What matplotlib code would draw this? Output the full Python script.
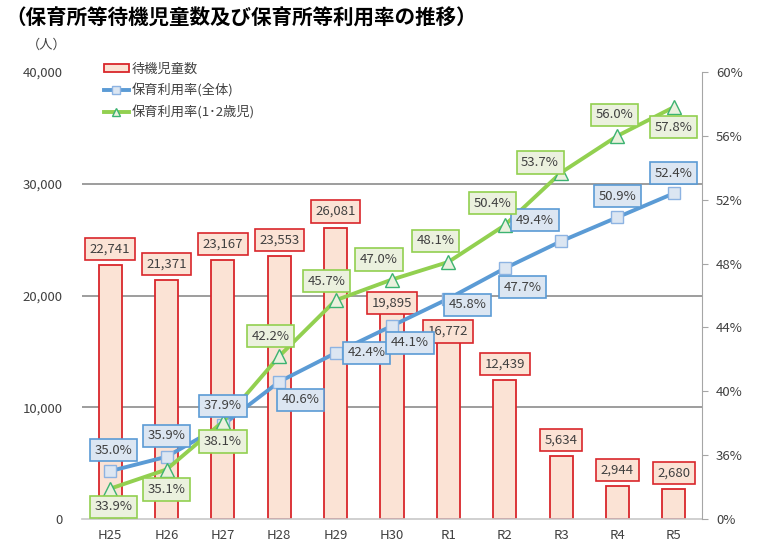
import matplotlib
matplotlib.use("Agg")
import matplotlib.pyplot as plt
from matplotlib.patches import Patch
from matplotlib.lines import Line2D

plt.rcParams["font.family"] = ["Noto Sans CJK JP", "DejaVu Sans"]

# ---- data ----
years = ["H25", "H26", "H27", "H28", "H29", "H30", "R1", "R2", "R3", "R4", "R5"]
waiting = [22741, 21371, 23167, 23553, 26081, 19895, 16772, 12439, 5634, 2944, 2680]
rate_all = [35.0, 35.9, 37.9, 40.6, 42.4, 44.1, 45.8, 47.7, 49.4, 50.9, 52.4]
rate_12 = [33.9, 35.1, 38.1, 42.2, 45.7, 47.0, 48.1, 50.4, 53.7, 56.0, 57.8]

# label offsets (pixels, x right / y down as on screen)
off_bar = [-16, -16, -16, -16, -16, 6, 0, -16, -16, -16, -16]
off_all = [(3, -21), (0, -21), (0, -19), (21, 18), (31, 0), (18, 17),
           (19, 6), (18, 19), (-26, -21), (0, -21), (0, -20)]
off_12 = [(3, 18), (0, 20), (0, 20), (-9, -20), (-9, -19), (-13, -20),
          (-13, -21), (-12, -22), (-21, -10), (-3, -21), (0, 20)]

RED = "#d9262b"
BAR_FILL = "#fbe3d5"
BLUE = "#5b9bd5"
BLUE_FILL = "#dce6f2"
GREEN = "#92d050"
GREEN_FILL = "#ebf1de"
TXT = "#404040"

fig = plt.figure(figsize=(7.57, 5.57), dpi=100)
ax = fig.add_axes([82 / 757, 1 - 519 / 557, 620 / 757, 447 / 557])
ax2 = ax.twinx()

x = list(range(len(years)))

ax.bar(x, waiting, width=0.41, color=BAR_FILL, edgecolor=RED, linewidth=1.3, zorder=2)
for xi, v, dy in zip(x, waiting, off_bar):
    ax.annotate(f"{v:,}", (xi, v), xytext=(0, -dy), textcoords="offset pixels",
                ha="center", va="center", fontsize=9.5, color=TXT,
                bbox=dict(boxstyle="square,pad=0.35", fc=BAR_FILL, ec=RED, lw=1.2), zorder=5)

ax.set_xlim(-0.5, len(years) - 0.5)
ax.set_ylim(0, 40000)
ax.set_yticks([0, 10000, 20000, 30000, 40000])
ax.set_yticklabels(["0", "10,000", "20,000", "30,000", "40,000"])
ax.set_xticks(x)
ax.set_xticklabels(years)
ax.tick_params(axis="y", length=0, pad=14, labelsize=9.5, labelcolor=TXT)
ax.tick_params(axis="x", length=0, pad=7, labelsize=9.5, labelcolor=TXT)
for yv in [10000, 20000, 30000]:
    ax.axhline(yv, color="#8c8c8c", lw=1.2, zorder=1)
for s in ["top", "left", "right"]:
    ax.spines[s].set_visible(False)
ax.spines["bottom"].set_color("#c8c8c8")
ax.spines["bottom"].set_linewidth(1.2)

# right axis: 32-60 with bottom labelled 0%
ax2.set_ylim(32, 60)
ax2.set_yticks([32, 36, 40, 44, 48, 52, 56, 60])
ax2.set_yticklabels(["0%", "36%", "40%", "44%", "48%", "52%", "56%", "60%"])
ax2.tick_params(axis="y", length=4, color="#a6a6a6", pad=6, labelsize=9.5, labelcolor=TXT)
for s in ["top", "left", "bottom"]:
    ax2.spines[s].set_visible(False)
ax2.spines["right"].set_color("#a6a6a6")

ax2.plot(x, rate_all, color=BLUE, lw=2.8, marker="s", ms=9, mfc=BLUE_FILL, mec="#8db3e2",
         mew=1, zorder=4)
ax2.plot(x, rate_12, color=GREEN, lw=2.8, marker="^", ms=10, mfc=GREEN_FILL, mec="#3cb371",
         mew=1, zorder=4)

for xi, v, (dx, dy) in zip(x, rate_all, off_all):
    ax2.annotate(f"{v:.1f}%", (xi, v), xytext=(dx, -dy), textcoords="offset pixels",
                 ha="center", va="center", fontsize=9.5, color=TXT,
                 bbox=dict(boxstyle="square,pad=0.35", fc=BLUE_FILL, ec=BLUE, lw=1.2), zorder=6)
for xi, v, (dx, dy) in zip(x, rate_12, off_12):
    ax2.annotate(f"{v:.1f}%", (xi, v), xytext=(dx, -dy), textcoords="offset pixels",
                 ha="center", va="center", fontsize=9.5, color=TXT,
                 bbox=dict(boxstyle="square,pad=0.35", fc=GREEN_FILL, ec=GREEN, lw=1.2), zorder=6)

handles = [
    Patch(facecolor=BAR_FILL, edgecolor=RED, linewidth=1.3),
    Line2D([], [], color=BLUE, lw=2.8, marker="s", ms=6, mfc=BLUE_FILL, mec="#8db3e2"),
    Line2D([], [], color=GREEN, lw=2.8, marker="^", ms=6, mfc=GREEN_FILL, mec="#3cb371"),
]
labels = ["待機児童数", "保育利用率(全体)", "保育利用率(1･2歳児)"]
leg = ax2.legend(handles, labels, loc="upper left", bbox_to_anchor=(0.02, 1.042), frameon=False,
                 fontsize=9.5, handlelength=1.9, handleheight=0.6, labelspacing=0.6,
                 handletextpad=0.2, borderpad=0.2)
for t in leg.get_texts():
    t.set_color(TXT)

fig.text(5 / 757, 1 - 18 / 557, "（保育所等待機児童数及び保育所等利用率の推移）", fontsize=14.8,
         fontweight="bold", ha="left", va="center", color="#000000")
fig.text(47 / 757, 1 - 45 / 557, "（人）", fontsize=9.5, ha="center", va="center", color=TXT)

fig.savefig("out.png", dpi=100)
